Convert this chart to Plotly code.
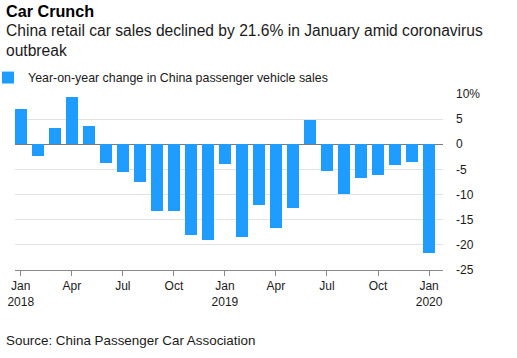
import plotly.graph_objects as go

# ---- data ----
months = ["2018-01", "2018-02", "2018-03", "2018-04", "2018-05", "2018-06",
          "2018-07", "2018-08", "2018-09", "2018-10", "2018-11", "2018-12",
          "2019-01", "2019-02", "2019-03", "2019-04", "2019-05", "2019-06",
          "2019-07", "2019-08", "2019-09", "2019-10", "2019-11", "2019-12",
          "2020-01"]
yoy_change = [7.1, -2.4, 3.2, 9.5, 3.6, -3.8, -5.5, -7.4, -13.2, -13.2, -18.0, -19.1,
              -4.0, -18.5, -12.1, -16.6, -12.6, 4.8, -5.3, -9.9, -6.7, -6.1, -4.2, -3.6,
              -21.6]
x_tick_months = ["2018-01", "2018-04", "2018-07", "2018-10", "2019-01", "2019-04",
                 "2019-07", "2019-10", "2020-01"]
x_tick_labels = ["Jan<br>2018", "Apr", "Jul", "Oct", "Jan<br>2019", "Apr", "Jul", "Oct", "Jan<br>2020"]
y_tick_vals = [-25, -20, -15, -10, -5, 0, 5, 10]
y_tick_labels = ["-25", "-20", "-15", "-10", "-5", "0", "5", "10%"]

title = "Car Crunch"
subtitle = "China retail car sales declined by 21.6% in January amid coronavirus<br>outbreak"
series_name = "Year-on-year change in China passenger vehicle sales"
source = "Source: China Passenger Car Association"

# ---- layout geometry (pixels) ----
W, H = 517, 358
L, R, T, B = 15, 74, 94, 88
plot_w = W - L - R
plot_h = H - T - B

def px_x(p):
    return (p - L) / plot_w

def px_y(p):
    return (H - B - p) / plot_h

FONT = "Liberation Sans, Arial, Helvetica, sans-serif"
BLUE = "#1e9cff"

idx = list(range(len(months)))
fig = go.Figure()
fig.add_trace(go.Bar(
    x=idx, y=yoy_change, name=series_name, width=0.68,
    marker=dict(color=BLUE, line=dict(width=0)),
    showlegend=True,
))

tickvals = [months.index(m) for m in x_tick_months]

fig.update_layout(
    width=W, height=H,
    margin=dict(l=L, r=R, t=T, b=B, autoexpand=False),
    paper_bgcolor="white", plot_bgcolor="white",
    font=dict(family=FONT, color="#1a1a1a", size=12),
    bargap=0,
    showlegend=True,
    legend=dict(
        orientation="h", xref="paper", yref="paper",
        x=px_x(-12), y=px_y(63), xanchor="left", yanchor="top",
        font=dict(size=12.4, color="#1a1a1a"),
        itemwidth=30, bgcolor="rgba(0,0,0,0)",
    ),
    xaxis=dict(
        range=[-0.34, 24.82], automargin=False,
        tickvals=tickvals, ticktext=x_tick_labels,
        showgrid=False, zeroline=False,
        showline=True, linecolor="#8a8a8a", linewidth=1,
        ticks="outside", ticklen=5, tickcolor="#8a8a8a", tickwidth=1,
        tickfont=dict(size=12, color="#1a1a1a"),
    ),
    yaxis=dict(
        side="right", range=[-25, 10], automargin=False,
        tickvals=y_tick_vals, ticktext=y_tick_labels,
        showgrid=True, gridcolor="#e2e2e2", gridwidth=1,
        zeroline=True, zerolinecolor="#7a7a7a", zerolinewidth=1,
        showline=False, ticks="", ticklabelstandoff=12,
        tickfont=dict(size=12, color="#1a1a1a"),
    ),
    annotations=[
        dict(text="<b>" + title + "</b>", xref="paper", yref="paper",
             x=px_x(4), y=px_y(0), xanchor="left", yanchor="top", showarrow=False,
             font=dict(size=16.2, color="#000000", family=FONT)),
        dict(text=subtitle, xref="paper", yref="paper",
             x=px_x(4), y=px_y(19.5), xanchor="left", yanchor="top", showarrow=False,
             align="left", font=dict(size=15.6, color="#1a1a1a", family=FONT)),
        dict(text=source, xref="paper", yref="paper",
             x=px_x(4), y=px_y(331), xanchor="left", yanchor="top", showarrow=False,
             font=dict(size=13.4, color="#1a1a1a", family=FONT)),
    ],
)

fig.write_html("out.html", config={"displayModeBar": False},
               post_script="document.body.style.margin='0';")
